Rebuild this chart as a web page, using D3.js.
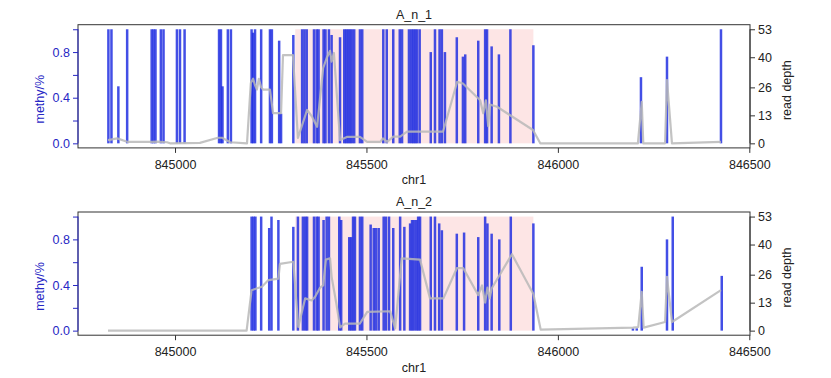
<!DOCTYPE html>
<html><head><meta charset="utf-8">
<script src="https://cdn.jsdelivr.net/npm/d3@7"></script>
<style>body{margin:0;background:#fff}svg{display:block}</style>
</head><body><svg id="c" width="831" height="378"></svg>
<script>
// ---------- data ----------
const panelTitles = ["A_n_1", "A_n_2"];
const xLabel = "chr1";
const yLeftLabel = "methy/%";
const yRightLabel = "read depth";
const xTicks = [845000, 845500, 846000, 846500];
const methyTicks = [0, 0.2, 0.4, 0.6, 0.8, 1.0];
const methyLabeled = [0, 0.4, 0.8];
const depthTicks = [0, 13, 26, 40, 53];
const depthMax = 53;
const regionStart = 845314, regionEnd = 845936;

// panel 1 : CpG sites and methylation level
const sites1 = [844826,844834,844852,844875,844939,844944,844949,844963,844970,845005,845013,845025,
 845115,845120,845124,845138,845146,845200,845204,845209,845225,845248,845253,845272,845277,
 845309,845332,845338,845344,845363,845370,845375,845388,845393,845402,845409,845431,
 845442,845447,845452,845457,845462,845468,845483,845489,845544,845553,845570,845587,845593,
 845611,845617,845622,845627,845632,845639,845668,845679,845691,845697,845705,845736,845752,
 845758,845792,845810,845815,845827,845846,845876,845936,846217,846285,846426];
const methy1 = [1,1,0.5,1,1,1,1,1,1,1,1,1,
 1,1,0.5,1,1,1,0.97,1,1,1,1,0.9,0.26,
 0.95,1,1,1,1,1,1,1,1,1,0.95,0.93,
 1,1,1,1,1,1,1,1,1,1,1,1,1,
 1,1,1,1,1,1,0.8,1,1,1,0.8,0.93,0.76,
 0.78,0.9,1,1,0.85,0.78,1,0.86,0.58,0.76,1];
// panel 1 : read depth
const depthPos1 = [844825,844849,844875,844940,844953,844979,844987,845065,845112,845123,845144,845188,
 845198,845204,845209,845214,845219,845225,845230,845248,845256,845277,845282,845308,845321,
 845345,845358,845371,845387,845397,845405,845409,845415,845431,845449,845483,845502,845536,
 845543,845554,845570,845588,845606,845700,845737,845752,845797,845805,845812,845818,845823,
 845841,845935,845954,846209,846219,846223,846280,846285,846298,846426];
const depth1 = [1.5,2.3,0.7,0.7,0.8,0.5,0,0.2,2.6,2.6,0.5,0,
 28,30,27,25,30,26,25,25,14,14,41,41,2.5,
 15.5,12.4,7.7,35,40,43,38,42,1.5,3,3,0.7,0.7,
 2.3,0.7,3.1,3.1,5.4,5.4,28.6,27.8,20,14,20,8,18,
 17,6.2,0,0,19.3,0,0,29.4,0,0.7];

// panel 2 : CpG sites and methylation level
const sites2 = [845200,845205,845210,845225,845246,845252,845270,845309,845321,845334,845340,845345,
 845363,845370,845375,845388,845396,845402,845429,845434,845455,845460,845465,845470,845483,845489,
 845511,845519,845525,845532,845545,845551,845559,845570,845588,845599,845614,845619,845624,845630,
 845635,845640,845668,845679,845690,845697,845736,845755,845792,845810,845816,845827,845847,845877,
 845936,846196,846206,846219,846285,846300,846428];
const methy2 = [1,1,1,1,0.9,1,0.97,0.91,1,1,1,1,
 1,1,1,0.97,1,1,1,0.97,0.82,0.82,1,1,1,1,
 0.93,0.9,0.9,0.9,1,1,1,0.9,1,0.91,0.94,0.97,0.97,0.97,
 1,1,1,1,0.94,0.88,0.85,0.86,0.82,1,0.94,0.85,0.8,1,
 0.94,0.02,0.02,0.56,0.8,1,0.48];
// panel 2 : read depth
const depthPos2 = [844825,845187,845200,845213,845227,845244,845270,845274,845309,845322,845340,845357,
 845366,845379,845387,845394,845405,845409,845422,845431,845444,845483,845502,845562,845575,845592,
 845640,845666,845701,845736,845753,845792,845802,845810,845816,845822,845827,845880,845936,845955,
 846196,846210,846219,846224,846280,846285,846298,846426];
const depth2 = [0,0,18.8,19.6,20.4,23.5,24.2,31,32,1.7,15,14,
 15.7,20,21,33,33.6,25,12,1.5,3.3,3.3,8.7,9,1,33.6,
 33,15,15,29,29,16.5,21,13,20,15,19.6,35.5,17,0.5,
 1.4,1.7,18,1.4,4,25,4,18.8];

// ---------- drawing ----------
const svg = d3.select("#c");
const font = "'Liberation Sans', Arial, Helvetica, sans-serif";
const blueAxis = "#2727c4";
const x = d3.scaleLinear().domain([844746.6, 846501.8]).range([78, 750]);

function drawPanel(top, title, sites, methy, dpos, dval) {
  const g = svg.append("g").attr("transform", `translate(0,${top})`);
  const y = d3.scaleLinear().domain([-0.04, 1.04]).range([123.2, 0]);
  const yd = d3.scaleLinear().domain([0, depthMax]).range([y(0), y(1)]);

  // highlighted region
  g.append("rect")
    .attr("x", x(regionStart)).attr("width", x(regionEnd) - x(regionStart))
    .attr("y", y(1)).attr("height", y(0) - y(1))
    .attr("fill", "#fde5e5");

  // methylation bars
  g.append("g").selectAll("line").data(sites).join("line")
    .attr("x1", d => x(d)).attr("x2", d => x(d))
    .attr("y1", y(0)).attr("y2", (d, i) => y(methy[i]))
    .attr("stroke", "#1a28e0").attr("stroke-opacity", 0.82).attr("stroke-width", 2.5);

  // read depth line
  const line = d3.line().x(d => x(d[0])).y(d => yd(d[1]));
  g.append("path").datum(dpos.map((p, i) => [p, dval[i]]))
    .attr("d", line).attr("fill", "none")
    .attr("stroke", "#b9b9b9").attr("stroke-opacity", 0.85).attr("stroke-width", 2.2)
    .attr("stroke-linejoin", "round");

  // box
  g.append("rect").attr("x", 78).attr("y", 0).attr("width", 672).attr("height", 123.2)
    .attr("fill", "none").attr("stroke", "#333").attr("stroke-width", 1);

  // left axis
  const la = g.append("g").attr("transform", "translate(78,0)")
    .call(d3.axisLeft(y).tickValues(methyTicks).tickSize(5).tickPadding(3)
      .tickFormat(d => methyLabeled.includes(d) ? d3.format(".1f")(d) : ""));
  la.select(".domain").attr("d", `M0,${y(0)}V${y(1)}`).attr("stroke", blueAxis);
  la.selectAll(".tick line").attr("stroke", blueAxis);
  la.selectAll("text").attr("fill", blueAxis).style("font", `12.5px ${font}`);

  // right axis
  const ra = g.append("g").attr("transform", "translate(750,0)")
    .call(d3.axisRight(yd).tickValues(depthTicks).tickSize(5).tickPadding(3));
  ra.select(".domain").attr("d", `M0,${yd(0)}V${yd(depthMax)}`).attr("stroke", "#333");
  ra.selectAll(".tick line").attr("stroke", "#333");
  ra.selectAll("text").attr("fill", "#222").style("font", `12.5px ${font}`);

  // bottom axis
  const ba = g.append("g").attr("transform", "translate(0,123.2)")
    .call(d3.axisBottom(x).tickValues(xTicks).tickSize(5).tickPadding(7).tickFormat(d3.format("d")));
  ba.select(".domain").remove();
  ba.selectAll(".tick line").attr("stroke", "#333");
  ba.selectAll("text").attr("fill", "#222").style("font", `12.5px ${font}`);

  // labels
  g.append("text").attr("x", 414).attr("y", -6).attr("text-anchor", "middle")
    .style("font", `12.5px ${font}`).attr("fill", "#222").text(title);
  g.append("text").attr("x", 414).attr("y", 159.5).attr("text-anchor", "middle")
    .style("font", `12.5px ${font}`).attr("fill", "#222").text(xLabel);
  g.append("text").attr("transform", `translate(44,${74.5}) rotate(-90)`).attr("text-anchor", "middle")
    .style("font", `12.5px ${font}`).attr("fill", blueAxis).text(yLeftLabel);
  g.append("text").attr("transform", `translate(791,${65.5}) rotate(-90)`).attr("text-anchor", "middle")
    .style("font", `12.5px ${font}`).attr("fill", "#222").text(yRightLabel);
}

drawPanel(24.7, panelTitles[0], sites1, methy1, depthPos1, depth1);
drawPanel(212.0, panelTitles[1], sites2, methy2, depthPos2, depth2);
</script></body></html>
